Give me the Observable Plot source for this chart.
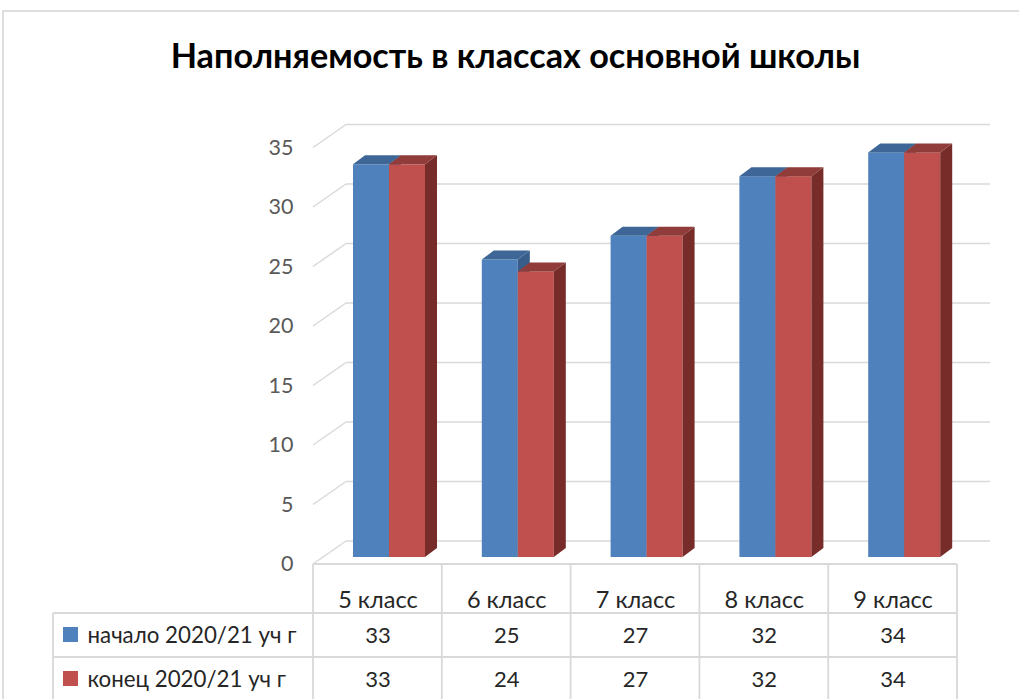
<!DOCTYPE html>
<html><head><meta charset="utf-8">
<script src="https://cdn.jsdelivr.net/npm/d3@7"></script>
<script src="https://cdn.jsdelivr.net/npm/@observablehq/plot@0.6"></script>
<style>body{margin:0;background:#fff}</style>
</head><body><div id="chart"></div>
<script>
const title = "Наполняемость в классах основной школы";
const classes = ["5 класс","6 класс","7 класс","8 класс","9 класс"];
const seriesNames = ["начало 2020/21 уч г","конец 2020/21 уч г"];
const startValues = [33,25,27,32,34];
const endValues = [33,24,27,32,34];
const yTicks = [0,5,10,15,20,25,30,35];

const colors = ["#4F81BD","#C0504D"];
const topColors = ["#3E6797","#8F3C3A"];
const sideColors = ["#385D8A","#772C2A"];
const gridColor = "#D9D9D9";
const FONT = "Lato, 'Open Sans', sans-serif";

const dataStart = classes.map((c,i)=>({cls:c, value:startValues[i]}));
const dataEnd = classes.map((c,i)=>({cls:c, value:endValues[i]}));

const W = 1019, H = 699;
const mLeft = 313, mRight = 62, mTop = 140.5, mBottom = 142;
const bw = (W - mLeft - mRight) / classes.length;
const DEPTH_X = 33, FRONT_DY = 7, BACK_DY = -16;
const BAR_DX = 12, BAR_DY = -9, BAR_W = 36, BAR_OFF = 40;

function borderMark(index, scales, values, dims) {
  const g = d3.create("svg:g").attr("stroke", "#D4D4D4").attr("stroke-width", 1.5).attr("fill", "none");
  g.append("path").attr("d", `M3,${dims.height}V11H${dims.width}`);
  return g.node();
}

function gridMark(index, scales, values, dims) {
  const g = d3.create("svg:g").attr("stroke", gridColor).attr("stroke-width", 1.5).attr("fill", "none");
  const left = dims.marginLeft, right = dims.width - dims.marginRight;
  for (const t of yTicks) {
    const y = scales.y(t);
    g.append("line").attr("x1", left + DEPTH_X).attr("x2", right + DEPTH_X).attr("y1", y + BACK_DY).attr("y2", y + BACK_DY);
    g.append("line").attr("x1", left).attr("x2", left + DEPTH_X).attr("y1", y + FRONT_DY).attr("y2", y + BACK_DY);
  }
  return g.node();
}

function facesMark(data, k) {
  return (index, scales, values, dims) => {
    const g = d3.create("svg:g");
    const y0 = scales.y(0);
    for (const d of data) {
      const x = scales.x(d.cls) + BAR_OFF + k * BAR_W;
      const y = scales.y(d.value);
      g.append("path").attr("fill", sideColors[k])
        .attr("d", `M${x+BAR_W},${y}L${x+BAR_W+BAR_DX},${y+BAR_DY}L${x+BAR_W+BAR_DX},${y0+BAR_DY}L${x+BAR_W},${y0}Z`);
      g.append("path").attr("fill", topColors[k])
        .attr("d", `M${x},${y}L${x+BAR_DX},${y+BAR_DY}L${x+BAR_W+BAR_DX},${y+BAR_DY}L${x+BAR_W},${y}Z`);
    }
    return g.node();
  };
}

function tableMark(index, scales, values, dims) {
  const g = d3.create("svg:g");
  const lines = g.append("g").attr("stroke", gridColor).attr("stroke-width", 1.8).attr("fill", "none");
  const left = dims.marginLeft, right = dims.width - dims.marginRight;
  const top = scales.y(0) + FRONT_DY;
  const row1 = top + 49, row2 = row1 + 44, bottom = dims.height;
  const legendLeft = 53;
  lines.append("line").attr("x1", left).attr("x2", right).attr("y1", top).attr("y2", top);
  lines.append("line").attr("x1", legendLeft).attr("x2", right).attr("y1", row1).attr("y2", row1);
  lines.append("line").attr("x1", legendLeft).attr("x2", right).attr("y1", row2).attr("y2", row2);
  lines.append("line").attr("x1", legendLeft).attr("x2", legendLeft).attr("y1", row1).attr("y2", bottom);
  const edges = classes.map(c => scales.x(c)).concat([right]);
  for (const e of edges) lines.append("line").attr("x1", e).attr("x2", e).attr("y1", top).attr("y2", bottom);
  [row1 + 22, row2 + 22].forEach((cy, k) => {
    g.append("rect").attr("x", 63).attr("y", cy - 8).attr("width", 15).attr("height", 15).attr("fill", colors[k]);
  });
  return g.node();
}

const chart = Plot.plot({
  width: W, height: H,
  marginLeft: mLeft, marginRight: mRight, marginTop: mTop, marginBottom: mBottom,
  x: {type: "band", domain: classes, padding: 0, round: false, axis: null},
  y: {domain: [0, 35], axis: null},
  style: {background: "white", fontFamily: FONT, overflow: "visible"},
  marks: [
    borderMark,
    gridMark,
    tableMark,
    Plot.barY(dataStart, {x: "cls", y: "value", fill: colors[0], insetLeft: BAR_OFF, insetRight: bw - BAR_OFF - BAR_W}),
    facesMark(dataStart, 0),
    Plot.barY(dataEnd, {x: "cls", y: "value", fill: colors[1], insetLeft: BAR_OFF + BAR_W, insetRight: bw - BAR_OFF - 2 * BAR_W}),
    facesMark(dataEnd, 1),
    Plot.text([title], {frameAnchor: "top", dx: -120, dy: -84, lineAnchor: "middle", text: d => d, fontSize: 34.2, fontWeight: "bold", fill: "#000"}),
    Plot.text(yTicks, {y: d => d, text: d => String(d), frameAnchor: "left", textAnchor: "end", lineAnchor: "middle", dx: -20, dy: FRONT_DY, fontSize: 21.5, fill: "#595959"}),
    Plot.text(classes, {x: d => d, text: d => d, frameAnchor: "bottom", lineAnchor: "middle", dy: 43, fontSize: 23.5, fill: "#262626"}),
    Plot.text(dataStart, {x: "cls", text: d => String(d.value), frameAnchor: "bottom", lineAnchor: "middle", dy: 78, fontSize: 22, fill: "#262626"}),
    Plot.text(dataEnd, {x: "cls", text: d => String(d.value), frameAnchor: "bottom", lineAnchor: "middle", dy: 122, fontSize: 22, fill: "#262626"}),
    Plot.text([seriesNames[0]], {text: d => d, frameAnchor: "bottom-left", textAnchor: "start", lineAnchor: "middle", dx: -226, dy: 78, fontSize: 22.3, fill: "#262626"}),
    Plot.text([seriesNames[1]], {text: d => d, frameAnchor: "bottom-left", textAnchor: "start", lineAnchor: "middle", dx: -226, dy: 122, fontSize: 22.3, fill: "#262626"})
  ]
});
document.getElementById("chart").append(chart);
</script>
</body></html>
